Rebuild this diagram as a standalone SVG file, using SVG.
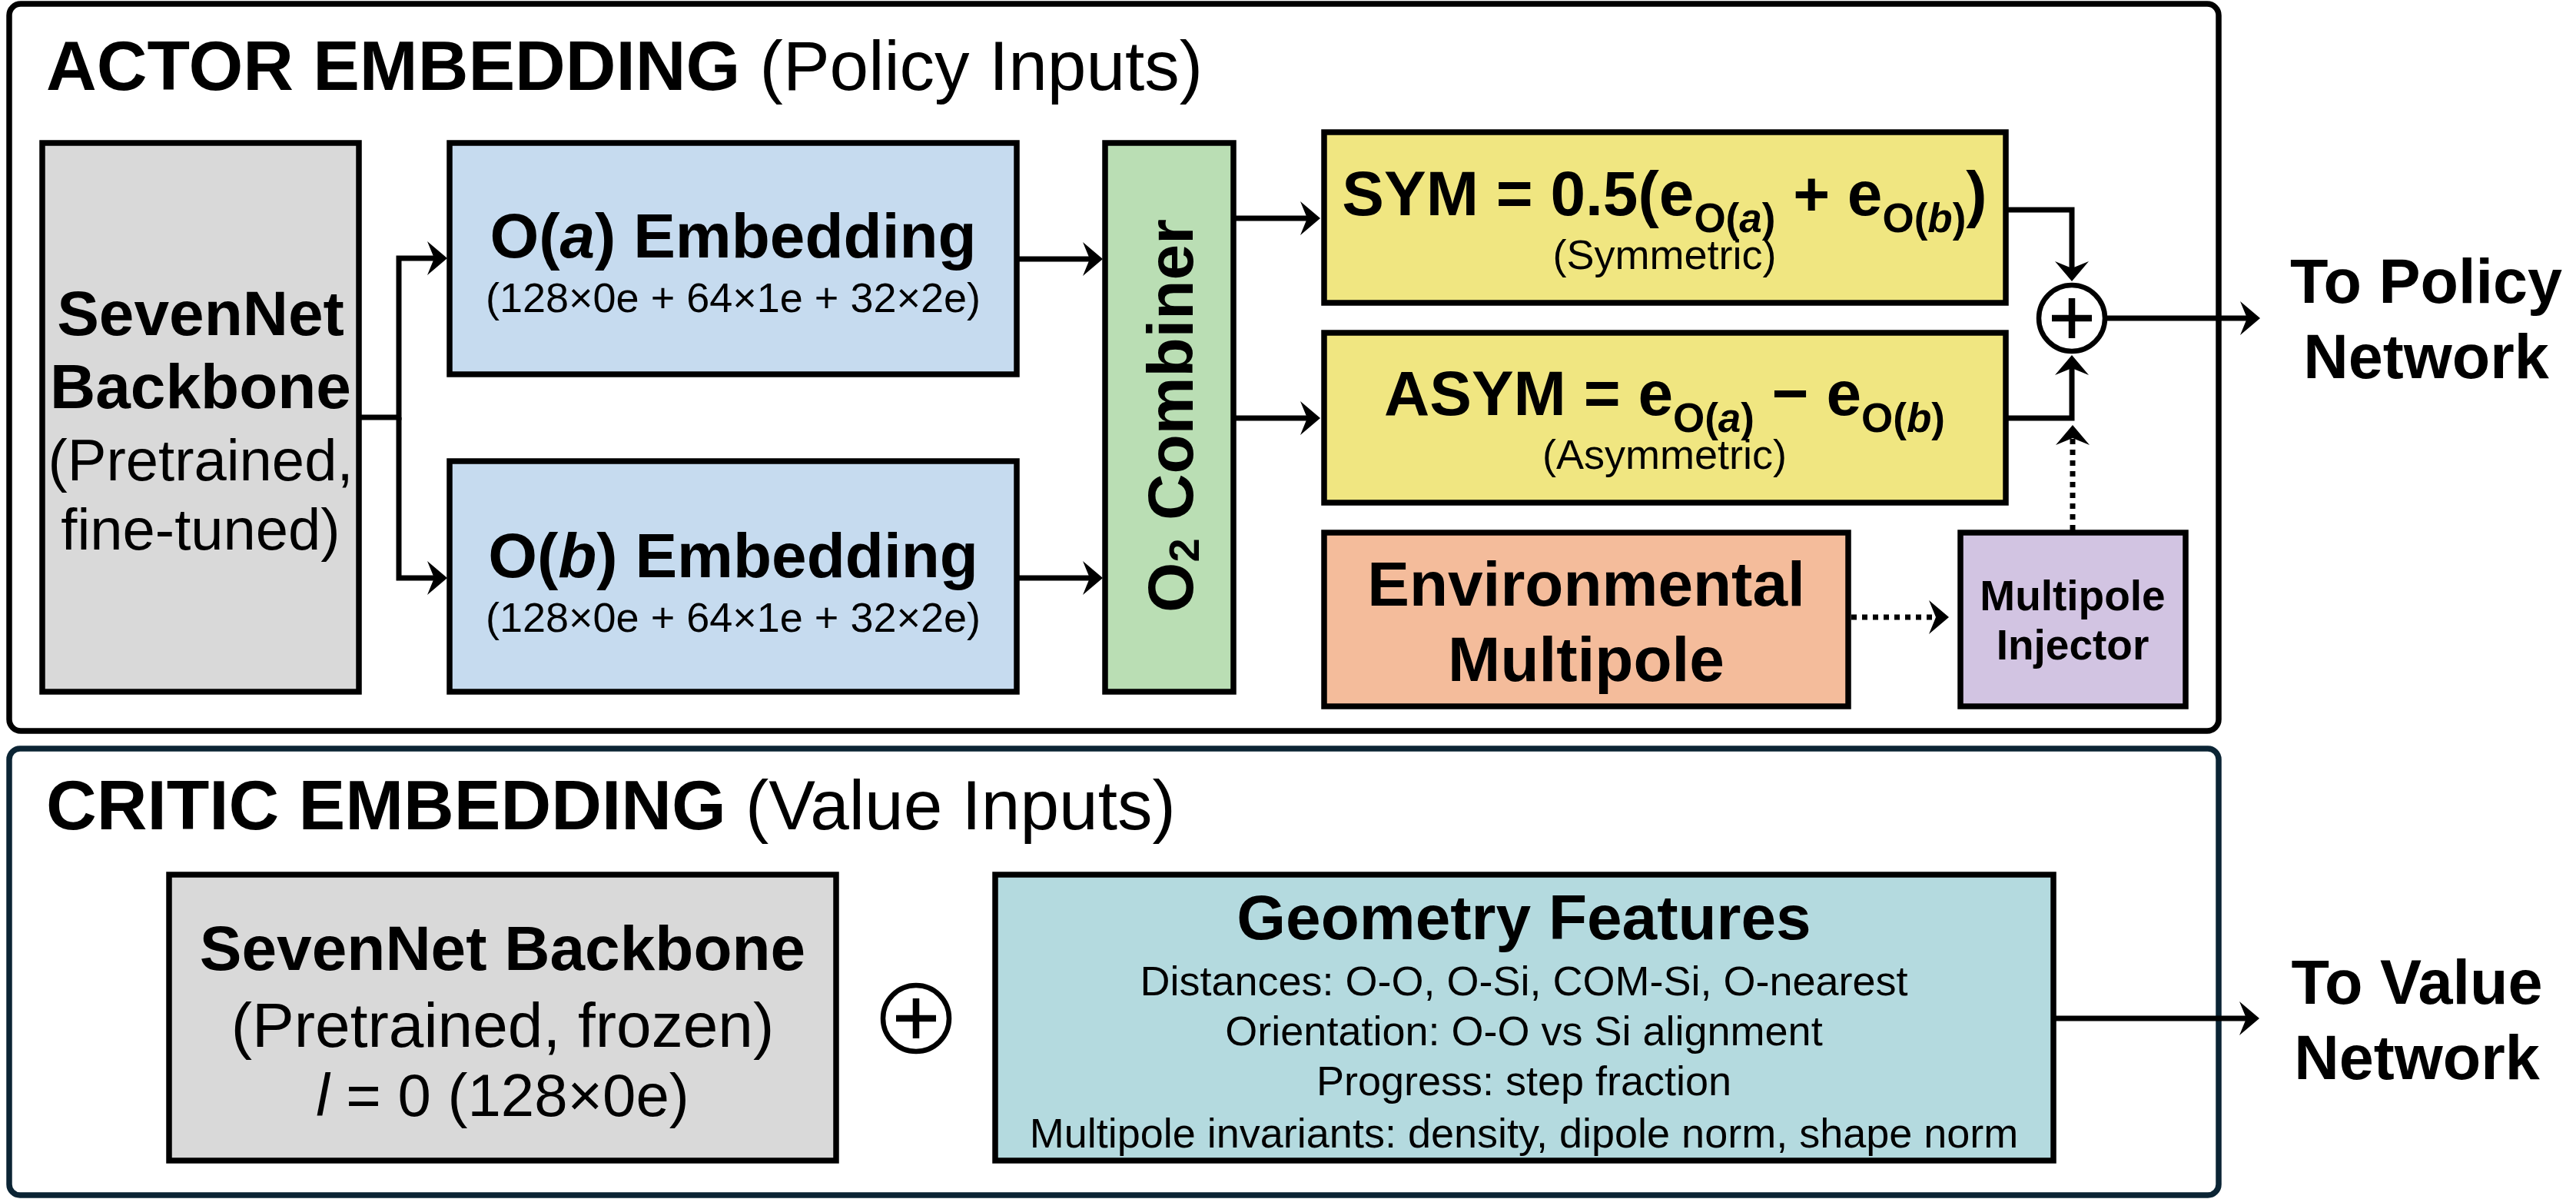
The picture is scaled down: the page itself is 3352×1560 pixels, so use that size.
<svg xmlns="http://www.w3.org/2000/svg" width="3352" height="1560" viewBox="0 0 3352 1560">
<style>
text{font-family:"Liberation Sans",Arial,sans-serif;fill:#000}
.b{font-weight:bold}
.t{font-size:91px}
.f82{font-size:82px}
.f54{font-size:54px}
.sub{font-size:53px}
.mid{text-anchor:middle}
.box{stroke:#000;stroke-width:7.5}
.conn{fill:none;stroke:#000;stroke-width:7}
.dot{fill:none;stroke:#000;stroke-width:7;stroke-dasharray:7 7}
</style>
<defs>
<marker id="ah" markerUnits="userSpaceOnUse" markerWidth="60" markerHeight="60" viewBox="-30 -30 60 60" refX="0" refY="0" orient="auto" overflow="visible">
<path d="M12,0 L-14,-22 L-5,0 L-14,22 Z" fill="#000"/>
</marker>
</defs>
<rect id="bg" x="0" y="0" width="3352" height="1560" fill="#fff"/>

<g id="actor-panel">
<rect x="12" y="5" width="2875" height="946" rx="15" fill="#fff" stroke="#000" stroke-width="7.5"/>
<text x="60" y="117" class="t"><tspan class="b">ACTOR EMBEDDING</tspan> (Policy Inputs)</text>
</g>
<g id="critic-panel">
<rect x="12" y="974" width="2875" height="581" rx="14" fill="#fff" stroke="#0b2434" stroke-width="7.5"/>
<text x="60" y="1079" class="t"><tspan class="b">CRITIC EMBEDDING</tspan> (Value Inputs)</text>
</g>

<g id="connectors">
<path class="conn" d="M467,543 H519 V336 H570" marker-end="url(#ah)"/>
<path class="conn" d="M519,543 V752 H570" marker-end="url(#ah)"/>
<path class="conn" d="M1323,337 H1423" marker-end="url(#ah)"/>
<path class="conn" d="M1323,752 H1423" marker-end="url(#ah)"/>
<path class="conn" d="M1605,284 H1706" marker-end="url(#ah)"/>
<path class="conn" d="M1605,544 H1706" marker-end="url(#ah)"/>
<path class="conn" d="M2610,273 H2696 V354" marker-end="url(#ah)"/>
<path class="conn" d="M2606,544 H2696 V474" marker-end="url(#ah)"/>
<path class="dot" d="M2697,690 V565" marker-end="url(#ah)"/>
<path class="dot" d="M2409,803 H2524" marker-end="url(#ah)"/>
<path class="conn" d="M2742,414 H2929" marker-end="url(#ah)"/>
<path class="conn" d="M2672,1325 H2928" marker-end="url(#ah)"/>
</g>

<g id="actor-backbone">
<rect class="box" x="55" y="186" width="412" height="714" fill="#d9d9d9"/>
<text x="261" y="436" class="b f82 mid">SevenNet</text>
<text x="261" y="531" class="b f82 mid">Backbone</text>
<text x="261" y="625" class="mid" font-size="76">(Pretrained,</text>
<text x="261" y="715" class="mid" font-size="76">fine-tuned)</text>
</g>

<g id="oa-embedding">
<rect class="box" x="585" y="186" width="738" height="301" fill="#c6dbef"/>
<text x="954" y="335" class="b f82 mid">O(<tspan font-style="italic">a</tspan>) Embedding</text>
<text x="954" y="406" class="f54 mid">(128×0e + 64×1e + 32×2e)</text>
</g>

<g id="ob-embedding">
<rect class="box" x="585" y="600" width="738" height="300" fill="#c6dbef"/>
<text x="954" y="751" class="b f82 mid">O(<tspan font-style="italic">b</tspan>) Embedding</text>
<text x="954" y="822" class="f54 mid">(128×0e + 64×1e + 32×2e)</text>
</g>

<g id="o2-combiner">
<rect class="box" x="1438" y="186" width="167" height="714" fill="#badeb4"/>
<text transform="translate(1552,541) rotate(-90)" x="0" y="0" class="b mid" font-size="84">O<tspan font-size="56" dy="8">2</tspan><tspan dy="-8"> Combiner</tspan></text>
</g>

<g id="sym">
<rect class="box" x="1723" y="172" width="887" height="222" fill="#f0e681"/>
<text x="2166" y="280" class="b f82 mid">SYM = 0.5(e<tspan class="sub" dy="22">O(<tspan font-style="italic">a</tspan>)</tspan><tspan dy="-22"> + e</tspan><tspan class="sub" dy="22">O(<tspan font-style="italic">b</tspan>)</tspan><tspan dy="-22">)</tspan></text>
<text x="2166" y="350" class="f54 mid">(Symmetric)</text>
</g>

<g id="asym">
<rect class="box" x="1723" y="433" width="887" height="221" fill="#f0e681"/>
<text x="2166" y="540" class="b f82 mid">ASYM = e<tspan class="sub" dy="22">O(<tspan font-style="italic">a</tspan>)</tspan><tspan dy="-22"> − e</tspan><tspan class="sub" dy="22">O(<tspan font-style="italic">b</tspan>)</tspan></text>
<text x="2166" y="610" class="f54 mid">(Asymmetric)</text>
</g>

<g id="env-multipole">
<rect class="box" x="1723" y="693" width="682" height="226" fill="#f4bc9b"/>
<text x="2064" y="788" class="b f82 mid">Environmental</text>
<text x="2064" y="886" class="b f82 mid">Multipole</text>
</g>

<g id="multipole-injector">
<rect class="box" x="2551" y="693" width="293" height="226" fill="#d2c4e2"/>
<text x="2697" y="794" class="b mid" font-size="55">Multipole</text>
<text x="2697" y="858" class="b mid" font-size="55">Injector</text>
</g>

<g id="sum-actor">
<circle cx="2696" cy="414" r="43" fill="#fff" stroke="#000" stroke-width="6.5"/>
<path d="M2670,414 H2722 M2696,388 V440" stroke="#000" stroke-width="8.5" fill="none"/>
</g>

<g id="to-policy">
<text x="3157" y="394" class="b mid" font-size="81">To Policy</text>
<text x="3157" y="492" class="b mid" font-size="81">Network</text>
</g>

<g id="critic-backbone">
<rect class="box" x="220" y="1138" width="868" height="372" fill="#d9d9d9"/>
<text x="654" y="1262" class="b f82 mid">SevenNet Backbone</text>
<text x="654" y="1362" class="f82 mid">(Pretrained, frozen)</text>
<text x="654" y="1452" class="mid" font-size="78"><tspan font-style="italic">l</tspan> = 0 (128×0e)</text>
</g>

<g id="sum-critic">
<circle cx="1192" cy="1325" r="43" fill="#fff" stroke="#000" stroke-width="6.5"/>
<path d="M1166,1325 H1218 M1192,1299 V1351" stroke="#000" stroke-width="8.5" fill="none"/>
</g>

<g id="geometry-features">
<rect class="box" x="1295" y="1138" width="1377" height="372" fill="#b4dadf"/>
<text x="1983" y="1222" class="b f82 mid">Geometry Features</text>
<text x="1983" y="1295" class="f54 mid">Distances: O-O, O-Si, COM-Si, O-nearest</text>
<text x="1983" y="1360" class="f54 mid">Orientation: O-O vs Si alignment</text>
<text x="1983" y="1425" class="f54 mid">Progress: step fraction</text>
<text x="1983" y="1493" class="f54 mid">Multipole invariants: density, dipole norm, shape norm</text>
</g>

<g id="to-value">
<text x="3145" y="1306" class="b mid" font-size="81">To Value</text>
<text x="3145" y="1404" class="b mid" font-size="81">Network</text>
</g>
</svg>
